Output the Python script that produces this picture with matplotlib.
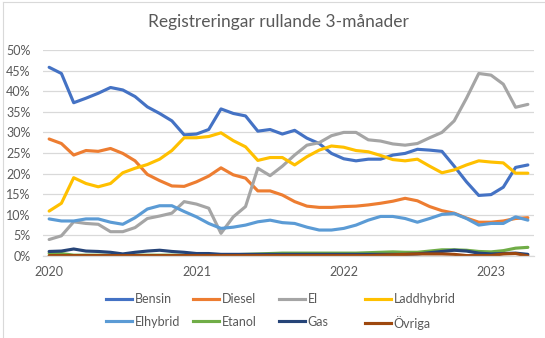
import matplotlib.pyplot as plt
from matplotlib.lines import Line2D

plt.rcParams['font.family'] = ['Lato', 'DejaVu Sans']

# monthly values (%), Jan 2020 - Apr 2023
year_labels = ["2020", "2021", "2022", "2023"]
year_pos = [0, 12, 24, 36]

bensin = [45.8, 44.3, 37.2, 38.3, 39.5, 40.9, 40.3, 38.7, 36.2, 34.6,
          32.8, 29.4, 29.6, 30.7, 35.7, 34.6, 34.0, 30.3, 30.7, 29.6,
          30.5, 28.6, 27.3, 24.9, 23.6, 23.1, 23.5, 23.5, 24.5, 24.9,
          25.9, 25.7, 25.4, 21.8, 18.0, 14.7, 14.9, 16.7, 21.5, 22.1]
diesel = [28.4, 27.3, 24.5, 25.6, 25.4, 26.1, 24.9, 23.1, 19.8, 18.3,
          17.0, 16.9, 18.0, 19.4, 21.4, 19.7, 18.9, 15.8, 15.8, 14.8,
          13.2, 12.1, 11.8, 11.8, 12.0, 12.1, 12.4, 12.8, 13.3, 14.0,
          13.4, 12.0, 11.0, 10.4, 9.2, 8.2, 8.2, 8.5, 9.1, 9.3]
el = [4.0, 4.9, 8.3, 7.9, 7.7, 5.9, 5.9, 6.9, 9.1, 9.7,
      10.4, 13.2, 12.6, 11.6, 5.5, 9.5, 12.0, 21.3, 19.5, 21.8,
      24.5, 26.9, 27.5, 29.2, 30.0, 30.0, 28.2, 27.9, 27.2, 26.9,
      27.3, 28.7, 30.0, 32.8, 38.3, 44.3, 43.9, 41.7, 36.1, 36.8]
laddhybrid = [10.9, 12.8, 19.0, 17.6, 16.8, 17.6, 20.2, 21.3, 22.2, 23.5,
              25.6, 28.7, 28.7, 29.0, 29.9, 28.0, 26.5, 23.2, 23.9, 23.9,
              22.1, 24.1, 25.7, 26.7, 26.4, 25.6, 25.3, 24.4, 23.4, 23.1,
              23.5, 21.8, 20.2, 20.9, 22.1, 23.1, 22.8, 22.6, 20.1, 20.1]
elhybrid = [9.0, 8.5, 8.5, 9.0, 9.0, 8.2, 7.7, 9.3, 11.4, 12.2,
            12.2, 10.8, 9.5, 7.9, 6.7, 7.0, 7.5, 8.3, 8.7, 8.1,
            7.9, 7.0, 6.3, 6.3, 6.7, 7.5, 8.7, 9.6, 9.6, 9.1,
            8.2, 9.1, 10.1, 10.3, 9.1, 7.5, 7.9, 7.9, 9.5, 8.7]
etanol = [0.65, 0.6, 0.2, 0.2, 0.2, 0.2, 0.2, 0.2, 0.2, 0.2,
          0.2, 0.2, 0.2, 0.2, 0.3, 0.3, 0.4, 0.5, 0.6, 0.7,
          0.7, 0.7, 0.7, 0.7, 0.7, 0.7, 0.8, 0.9, 1.0, 0.9,
          0.9, 1.2, 1.5, 1.5, 1.4, 1.1, 1.0, 1.3, 1.9, 2.1]
gas = [1.1, 1.2, 1.7, 1.2, 1.1, 0.9, 0.5, 0.9, 1.2, 1.4,
       1.1, 0.9, 0.6, 0.6, 0.4, 0.4, 0.4, 0.4, 0.4, 0.4,
       0.4, 0.4, 0.4, 0.4, 0.4, 0.4, 0.4, 0.4, 0.4, 0.4,
       0.5, 0.8, 1.1, 1.4, 1.2, 0.7, 0.5, 0.6, 0.7, 0.4]
ovriga = [0.1, 0.1, 0.1, 0.1, 0.1, 0.1, 0.1, 0.1, 0.1, 0.1,
          0.1, 0.1, 0.1, 0.1, 0.1, 0.1, 0.1, 0.1, 0.1, 0.1,
          0.1, 0.1, 0.1, 0.1, 0.1, 0.1, 0.1, 0.2, 0.3, 0.4,
          0.5, 0.5, 0.5, 0.4, 0.1, 0.1, 0.1, 0.5, 0.6, 0.0]

series = [
    ("Bensin", bensin, "#4472C4"),
    ("Diesel", diesel, "#ED7D31"),
    ("El", el, "#A5A5A5"),
    ("Laddhybrid", laddhybrid, "#FFC000"),
    ("Elhybrid", elhybrid, "#5B9BD5"),
    ("Etanol", etanol, "#70AD47"),
    ("Gas", gas, "#264478"),
    ("Övriga", ovriga, "#9E480E"),
]

fig = plt.figure(figsize=(5.45, 3.38), dpi=100)
ax = fig.add_axes([43 / 545, 1 - 256 / 338, 491 / 545, 206 / 338])

x = list(range(len(bensin)))
handles = []
for name, vals, col in series:
    ln, = ax.plot(x, [v / 100 for v in vals], color=col, lw=2.25,
                  solid_joinstyle='round', solid_capstyle='round', label=name)
    handles.append(ln)

ax.set_xlim(-0.5, len(x) - 0.5)
ax.set_ylim(0, 0.5)
ax.set_yticks([i * 0.05 for i in range(11)])
ax.set_yticklabels([f"{i * 5}%" for i in range(11)])
ax.set_xticks(year_pos)
ax.set_xticklabels(year_labels)
ax.grid(axis='y', color='#D9D9D9', lw=0.9)
ax.set_axisbelow(True)
for s in ['top', 'right', 'left']:
    ax.spines[s].set_visible(False)
ax.spines['bottom'].set_color('#D9D9D9')
ax.spines['bottom'].set_linewidth(0.9)
ax.tick_params(length=0, labelsize=9, colors='#595959')
ax.tick_params(axis='y', pad=9)
ax.tick_params(axis='x', pad=7)

fig.text(278 / 545, 1 - 22 / 338, "Registreringar rullande 3-månader",
         ha='center', va='center', fontsize=12.5, color='#595959')

# legend, one per column like excel lays it out
col_x = [106, 193, 279, 365]
for c in range(4):
    hs = [Line2D([], [], color=h.get_color(), lw=2.25) for h in (handles[c], handles[c + 4])]
    labs = [handles[c].get_label(), handles[c + 4].get_label()]
    leg = fig.legend(hs, labs, loc='upper left',
                     bbox_to_anchor=(col_x[c] / 545, 1 - 293 / 338),
                     frameon=False, fontsize=9, handlelength=2.1,
                     handletextpad=0.2, labelspacing=0.85,
                     borderpad=0, borderaxespad=0, labelcolor='#595959')

# sheet cell borders peeking out at the edge
fig.add_artist(Line2D([3 / 545, 3 / 545], [0, 1 - 2 / 338], color='#D9D9D9', lw=0.8))
fig.add_artist(Line2D([3 / 545, 1], [1 - 2 / 338, 1 - 2 / 338], color='#D9D9D9', lw=0.8))

fig.savefig("out.png", dpi=100)
